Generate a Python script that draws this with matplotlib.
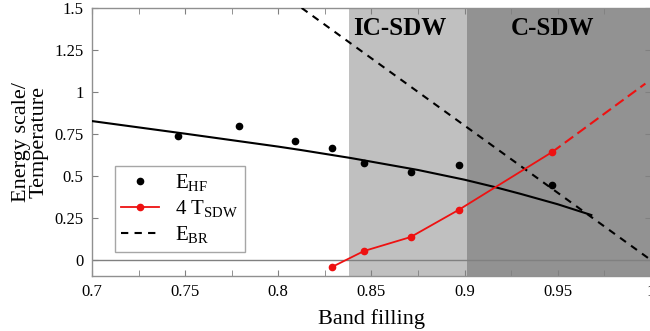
import matplotlib
matplotlib.use("Agg")
import matplotlib.pyplot as plt
from matplotlib.ticker import MultipleLocator, FixedLocator, FixedFormatter

plt.rcParams['font.family'] = ['Liberation Serif', 'DejaVu Serif']
plt.rcParams['mathtext.fontset'] = 'custom'
plt.rcParams['mathtext.rm'] = 'Liberation Serif'

# E_HF data points
ehf_x = [0.746, 0.779, 0.809, 0.829, 0.846, 0.871, 0.897, 0.947]
ehf_y = [0.738, 0.800, 0.710, 0.667, 0.578, 0.524, 0.565, 0.446]

# E_HF fit curve (solid black)
fit_x = [0.70, 0.75, 0.80, 0.812, 0.839, 0.875, 0.90, 0.916, 0.93, 0.95, 0.968]
fit_y = [0.827, 0.752, 0.675, 0.655, 0.607, 0.536, 0.478, 0.435, 0.394, 0.332, 0.268]

# 4 T_SDW (red)
tsdw_x = [0.829, 0.846, 0.871, 0.897, 0.947]
tsdw_y = [-0.04, 0.054, 0.137, 0.300, 0.643]
ext_x = [0.947, 0.997]
ext_y = [0.643, 1.05]

# E_BR (dashed black)
ebr_x = [0.8125, 1.0]
ebr_y = [1.5, 0.0]

# phase regions
ic_range = (0.838, 0.901)
c_range = (0.901, 1.0)

xticks = [0.7, 0.75, 0.8, 0.85, 0.9, 0.95, 1.0]
xticklabels = ['0.7', '0.75', '0.8', '0.85', '0.9', '0.95', '1']
yticks = [0, 0.25, 0.5, 0.75, 1.0, 1.25, 1.5]
yticklabels = ['0', '0.25', '0.5', '0.75', '1', '1.25', '1.5']

fig = plt.figure(figsize=(6.5, 3.31), dpi=100)
ax = fig.add_axes([0.1415, 0.166, 0.8600, 0.810])

ax.axvspan(*ic_range, color='#c0c0c0', lw=0, zorder=0)
ax.axvspan(*c_range, color='#929292', lw=0, zorder=0)
ax.axhline(0, color='#808080', lw=1.0, zorder=1)

ax.plot(fit_x, fit_y, color='black', lw=1.5, zorder=3)
ax.plot(ehf_x, ehf_y, 'o', color='black', ms=4.5, zorder=4, label=r'E$_{\mathregular{HF}}$')
ax.plot(tsdw_x, tsdw_y, '-o', color='#ee1111', lw=1.3, ms=4.5, zorder=4,
        label=r'4 T$_{\mathregular{SDW}}$')
ax.plot(ext_x, ext_y, '--', color='#ee1111', lw=1.5, dashes=(5, 2.5), zorder=4)
ax.plot(ebr_x, ebr_y, '--', color='black', lw=1.5, dashes=(3.5, 3), zorder=3,
        label=r'E$_{\mathregular{BR}}$')

ax.text(0.865, 1.38, 'IC-SDW', fontsize=18, fontweight='bold', ha='center', va='center')
ax.text(0.947, 1.38, 'C-SDW', fontsize=18, fontweight='bold', ha='center', va='center')

ax.set_xlim(0.7, 1.0)
ax.set_ylim(-0.095, 1.5)
ax.xaxis.set_major_locator(FixedLocator(xticks))
ax.xaxis.set_major_formatter(FixedFormatter(xticklabels))
ax.xaxis.set_minor_locator(MultipleLocator(0.025))
ax.yaxis.set_major_locator(FixedLocator(yticks))
ax.yaxis.set_major_formatter(FixedFormatter(yticklabels))
ax.tick_params(which='both', direction='in', top=True, right=True, length=4,
               color='#808080', labelsize=12, pad=6)
for s in ax.spines.values():
    s.set_color('#909090')
    s.set_linewidth(1.0)

ax.set_xlabel('Band filling', fontsize=16, labelpad=6)
ax.set_ylabel('Energy scale/\nTemperature', fontsize=16, labelpad=4, linespacing=0.95)

leg = ax.legend(loc='lower left', bbox_to_anchor=(0.041, 0.09), fontsize=15,
                frameon=True, fancybox=False, handlelength=1.8, borderpad=0.3,
                labelspacing=0.2, handletextpad=0.8, borderaxespad=0)
leg.get_frame().set_edgecolor('#909090')
leg.get_frame().set_linewidth(1.0)

fig.savefig('out.png', dpi=100)
